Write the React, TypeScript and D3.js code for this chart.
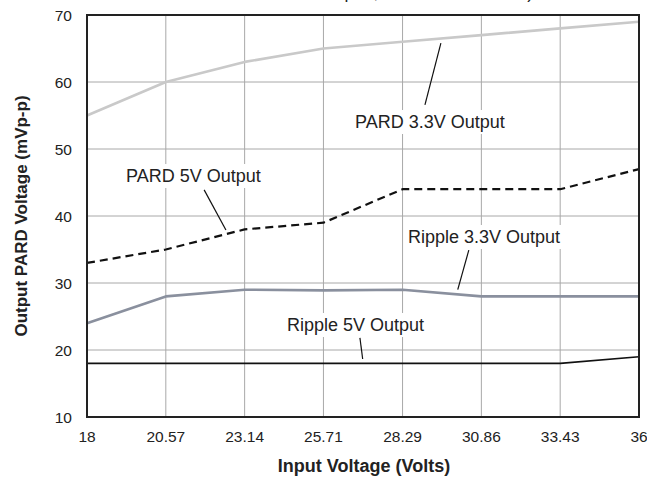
import React from "react";
import * as d3 from "d3";

const xTicks = ["18", "20.57", "23.14", "25.71", "28.29", "30.86", "33.43", "36"];
const xValues = [18, 20.57, 23.14, 25.71, 28.29, 30.86, 33.43, 36];
const yTicks = [10, 20, 30, 40, 50, 60, 70];

const pard33 = [55, 60, 63, 65, 66, 67, 68, 69];
const pard5 = [33, 35, 38, 39, 44, 44, 44, 47];
const ripple33 = [24, 28, 29, 28.9, 29, 28, 28, 28];
const ripple5 = [18, 18, 18, 18, 18, 18, 18, 19];

const seriesNames = ["PARD 3.3V Output", "PARD 5V Output", "Ripple 3.3V Output", "Ripple 5V Output"];
const topTitle = "Measured at Full Load Open, 25°C Ambient Test)";

const W = 647;
const H = 479;
const FONT = "'Liberation Sans', Arial, Helvetica, sans-serif";

export default function App() {
  const x = d3.scaleLinear().domain([18, 36]).range([87, 639]);
  const y = d3.scaleLinear().domain([10, 70]).range([417, 15]);
  const line = d3
    .line<number>()
    .x((_, i) => x(xValues[i]))
    .y((d) => y(d));

  const series = [
    { name: seriesNames[0], values: pard33, stroke: "#c9c9c9", width: 2.6, dash: undefined },
    { name: seriesNames[1], values: pard5, stroke: "#111", width: 2.2, dash: "8,5" },
    { name: seriesNames[2], values: ripple33, stroke: "#8a909e", width: 2.6, dash: undefined },
    { name: seriesNames[3], values: ripple5, stroke: "#111", width: 1.6, dash: undefined },
  ];

  // annotations: label box + leader (text position in px, leader ends in data coords)
  const labels = [
    { text: seriesNames[0], tx: 355, ty: 128, bw: 152, lead: [[29.54, 65.8], [29.02, 56.6]] },
    { text: seriesNames[1], tx: 126, ty: 182, bw: 137, lead: [[21.82, 43.9], [22.53, 37.9]] },
    { text: seriesNames[2], tx: 408, ty: 243, bw: 156, lead: [[30.45, 34.9], [30.09, 29.0]] },
    { text: seriesNames[3], tx: 287, ty: 331, bw: 141, lead: [[26.9, 21.8], [26.99, 18.66]] },
  ];

  return (
    <svg
      width={W}
      height={H}
      style={{ position: "absolute", left: 0, top: 0, background: "#fff" }}
      fontFamily={FONT}
    >
      <rect x={0} y={0} width={W} height={H} fill="#fff" />
      {/* clipped title at top */}
      <text x={533} y={-2.5} textAnchor="end" fontSize={17.5} fill="#222">
        {topTitle}
      </text>

      {/* grid */}
      {xValues.map((v, i) => (
        <line key={"gx" + i} x1={x(v)} x2={x(v)} y1={y(10)} y2={y(70)} stroke="#a8a8a8" strokeWidth={1} />
      ))}
      {yTicks.map((v) => (
        <line key={"gy" + v} x1={x(18)} x2={x(36)} y1={y(v)} y2={y(v)} stroke="#a8a8a8" strokeWidth={1} />
      ))}

      {/* label boxes */}
      {labels.map((l, i) => (
        <rect key={"lb" + i} x={l.tx - 4} y={l.ty - 18} width={l.bw + 8} height={24} fill="#fff" />
      ))}

      {/* series */}
      {series.map((s) => (
        <path
          key={s.name}
          d={line(s.values) || ""}
          fill="none"
          stroke={s.stroke}
          strokeWidth={s.width}
          strokeDasharray={s.dash}
          strokeLinejoin="round"
        />
      ))}

      {/* leaders and texts */}
      {labels.map((l, i) => (
        <g key={"lt" + i}>
          <line
            x1={x(l.lead[0][0])}
            y1={y(l.lead[0][1])}
            x2={x(l.lead[1][0])}
            y2={y(l.lead[1][1])}
            stroke="#111"
            strokeWidth={1.2}
          />
          <text x={l.tx} y={l.ty} fontSize={18} fill="#222">
            {l.text}
          </text>
        </g>
      ))}

      {/* frame */}
      <rect x={x(18)} y={y(70)} width={x(36) - x(18)} height={y(10) - y(70)} fill="none" stroke="#222" strokeWidth={2} />

      {/* x tick labels */}
      {xValues.map((v, i) => (
        <text key={"xt" + i} x={x(v)} y={442} textAnchor="middle" fontSize={15.5} fill="#222">
          {xTicks[i]}
        </text>
      ))}
      {/* y tick labels */}
      {yTicks.map((v) => (
        <text key={"yt" + v} x={72} y={y(v)} dy="0.36em" textAnchor="end" fontSize={15.5} fill="#222">
          {v}
        </text>
      ))}

      <text x={(x(18) + x(36)) / 2 + 1} y={472} textAnchor="middle" fontSize={18} fontWeight="bold" fill="#222">
        Input Voltage (Volts)
      </text>
      <text
        transform={`translate(27, ${(y(10) + y(70)) / 2}) rotate(-90)`}
        textAnchor="middle"
        fontSize={17}
        fontWeight="bold"
        fill="#222"
      >
        Output PARD Voltage (mVp-p)
      </text>
    </svg>
  );
}
